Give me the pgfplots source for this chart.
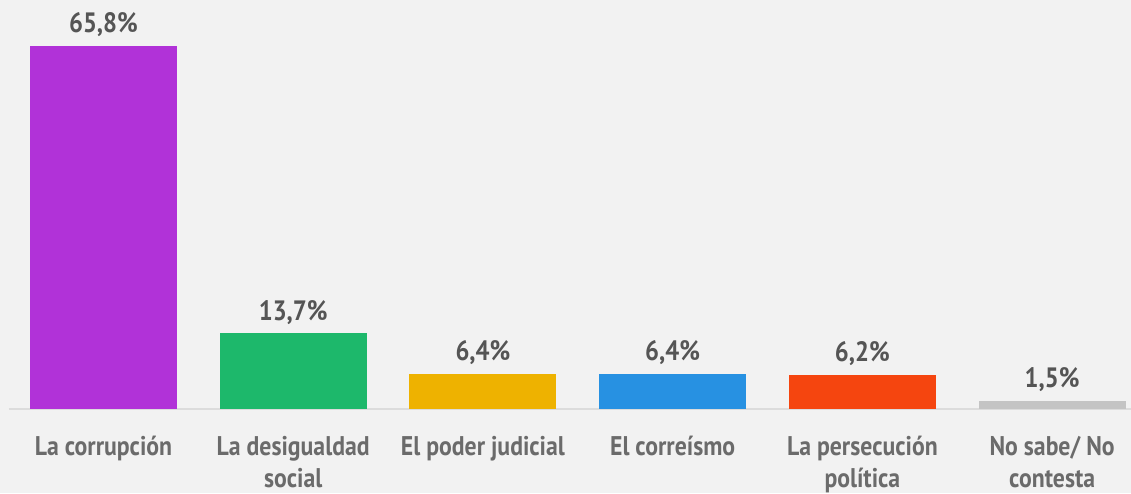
\documentclass[border=0pt]{standalone}
\usepackage{pgfplots}
\pgfplotsset{compat=1.18}
\usepackage{fontspec}
\setmainfont{PT Sans}[FakeStretch=0.88]
\definecolor{bg}{HTML}{F2F2F2}
\definecolor{cA}{HTML}{B132D8}
\definecolor{cB}{HTML}{1DB86B}
\definecolor{cC}{HTML}{EEB200}
\definecolor{cD}{HTML}{2791E2}
\definecolor{cE}{HTML}{F5450F}
\definecolor{cF}{HTML}{C4C4C4}
\definecolor{valtxt}{HTML}{555555}
\definecolor{ticktxt}{HTML}{6B6B6B}
\definecolor{axl}{HTML}{DCDCDC}
\newcommand{\st}{\rule{0pt}{22pt}}
\begin{document}
\begin{tikzpicture}
\useasboundingbox (-8.6pt,-84pt) rectangle (1122.4pt,409pt);
\fill[bg] (-8.6pt,-84pt) rectangle (1122.4pt,409pt);
\begin{axis}[
  at={(0pt,0pt)}, anchor=south west,
  scale only axis, width=1122.4pt, height=409pt,
  xmin=-0.5, xmax=5.416, ymin=0, ymax=74.1,
  ybar, bar width=147pt,
  hide y axis,
  axis x line*=bottom,
  x axis line style={draw=axl, line width=1.5pt},
  major tick length=0pt,
  xtick={0,1,2,3,4,5},
  xticklabels={\st La corrupción, \st La desigualdad\\social, \st El poder judicial, \st El correísmo, \st La persecución\\política, \st No sabe/ No\\contesta},
  xticklabel style={align=center, anchor=north, inner sep=0pt, yshift=-24pt, text=ticktxt, font=\bfseries\fontsize{27}{32}\selectfont},
  clip=false,
  nodes near coords={\pgfmathprintnumber[use comma,fixed,fixed zerofill,precision=1]{\pgfplotspointmeta}\%},
  /pgf/number format/assume math mode=true,
  every node near coord/.append style={anchor=base, yshift=13pt, text=valtxt, font=\bfseries\fontsize{28}{32}\selectfont},
]
\addplot[fill=cA, draw=none, bar shift=0pt] coordinates {(0,65.8)};
\addplot[fill=cB, draw=none, bar shift=0pt] coordinates {(1,13.7)};
\addplot[fill=cC, draw=none, bar shift=0pt] coordinates {(2,6.4)};
\addplot[fill=cD, draw=none, bar shift=0pt] coordinates {(3,6.4)};
\addplot[fill=cE, draw=none, bar shift=0pt] coordinates {(4,6.2)};
\addplot[fill=cF, draw=none, bar shift=0pt] coordinates {(5,1.5)};
\end{axis}
\end{tikzpicture}
\end{document}
